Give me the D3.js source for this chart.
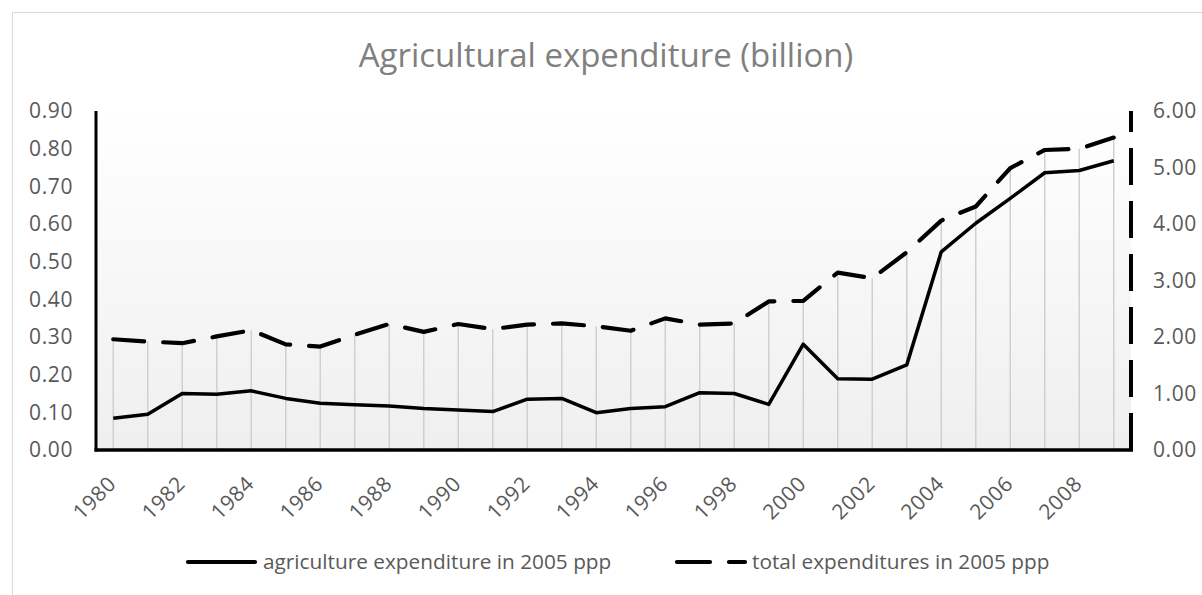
<!DOCTYPE html>
<html>
<head>
<meta charset="utf-8">
<script src="https://cdn.jsdelivr.net/npm/d3@7"></script>
<style>
  html, body { margin: 0; padding: 0; background: #fff; }
  svg { display: block; font-family: "Open Sans", sans-serif; }
</style>
</head>
<body>
<svg id="chart" width="1202" height="595"></svg>
<script>
const years = [1980,1981,1982,1983,1984,1985,1986,1987,1988,1989,1990,1991,1992,1993,1994,1995,1996,1997,1998,1999,2000,2001,2002,2003,2004,2005,2006,2007,2008,2009];
const agriculture = [0.084,0.095,0.150,0.148,0.157,0.137,0.124,0.120,0.117,0.110,0.106,0.102,0.135,0.137,0.099,0.110,0.115,0.152,0.150,0.121,0.281,0.189,0.188,0.226,0.526,0.602,0.668,0.736,0.742,0.768];
const total = [1.96,1.92,1.89,2.01,2.12,1.87,1.83,2.04,2.23,2.09,2.23,2.14,2.22,2.24,2.19,2.11,2.33,2.22,2.24,2.63,2.64,3.14,3.04,3.50,4.06,4.31,4.99,5.31,5.33,5.53];
const leftTicks = [0,0.1,0.2,0.3,0.4,0.5,0.6,0.7,0.8,0.9];
const rightTicks = [0,1,2,3,4,5,6];
const xLabelYears = years.filter(y => (y - 1980) % 2 === 0);
const titleText = "Agricultural expenditure (billion)";
const seriesNames = ["agriculture expenditure in 2005 ppp", "total expenditures in 2005 ppp"];

const svg = d3.select("#chart");
const plot = {left: 96, right: 1131, top: 111, bottom: 450};

// outer chart border
svg.append("rect").attr("x", 12.5).attr("y", 12.5).attr("width", 1220).attr("height", 620)
  .attr("fill", "none").attr("stroke", "#d9d9d9").attr("stroke-width", 1);

const defs = svg.append("defs");
const grad = defs.append("linearGradient").attr("id", "bg").attr("x1", 0).attr("y1", 0).attr("x2", 0).attr("y2", 1);
grad.append("stop").attr("offset", "0%").attr("stop-color", "#ffffff");
grad.append("stop").attr("offset", "100%").attr("stop-color", "#efefef");

const x = d3.scaleBand().domain(years).range([plot.left, plot.right]).padding(0);
const cx = d => x(d) + x.bandwidth() / 2;
const yL = d3.scaleLinear().domain([0, 0.9]).range([plot.bottom, plot.top]);
const yR = d3.scaleLinear().domain([0, 6]).range([plot.bottom, plot.top]);

svg.append("rect").attr("x", plot.left).attr("y", plot.top)
  .attr("width", plot.right - plot.left).attr("height", plot.bottom - plot.top)
  .attr("fill", "url(#bg)");

// title
svg.append("text").attr("x", 606).attr("y", 67).attr("text-anchor", "middle")
  .attr("font-size", 33).attr("fill", "#808080").text(titleText);

// drop lines
svg.append("g").selectAll("line").data(years).join("line")
  .attr("x1", d => cx(d)).attr("x2", d => cx(d))
  .attr("y1", plot.bottom)
  .attr("y2", (d, i) => Math.min(yL(agriculture[i]), yR(total[i])))
  .attr("stroke", "#d0d0d0").attr("stroke-width", 1.5);

const tickFont = 21, tickSpacing = 0.6;

// left axis
const gL = svg.append("g").attr("transform", `translate(${plot.left},0)`)
  .call(d3.axisLeft(yL).tickValues(leftTicks).tickFormat(d3.format(".2f")).tickSize(0).tickPadding(23));
gL.select(".domain").remove();
gL.selectAll("text").attr("font-size", tickFont).attr("letter-spacing", tickSpacing)
  .attr("fill", "#595959").attr("font-family", "Open Sans");
svg.append("line").attr("x1", plot.left).attr("x2", plot.left).attr("y1", plot.top).attr("y2", plot.bottom + 1.5)
  .attr("stroke", "#000").attr("stroke-width", 3);

// right axis
const gR = svg.append("g").attr("transform", `translate(${plot.right},0)`)
  .call(d3.axisRight(yR).tickValues(rightTicks).tickFormat(d3.format(".2f")).tickSize(0).tickPadding(22));
gR.select(".domain").remove();
gR.selectAll("text").attr("font-size", tickFont).attr("letter-spacing", tickSpacing)
  .attr("fill", "#595959").attr("font-family", "Open Sans");
svg.append("line").attr("x1", plot.right).attr("x2", plot.right).attr("y1", plot.bottom).attr("y2", plot.top)
  .attr("stroke", "#000").attr("stroke-width", 4).attr("stroke-dasharray", "37,16");

// bottom axis
const gB = svg.append("g").attr("transform", `translate(0,${plot.bottom})`)
  .call(d3.axisBottom(x).tickValues(xLabelYears).tickSize(0).tickPadding(0));
gB.select(".domain").remove();
gB.selectAll("text")
  .attr("font-size", tickFont).attr("letter-spacing", tickSpacing)
  .attr("fill", "#595959").attr("font-family", "Open Sans")
  .attr("text-anchor", "end")
  .attr("transform", "translate(-1,30) rotate(-45)")
  .attr("dy", "0.35em").attr("y", 0).attr("x", 0);
svg.append("line").attr("x1", plot.left - 1.5).attr("x2", plot.right + 2).attr("y1", plot.bottom).attr("y2", plot.bottom)
  .attr("stroke", "#000").attr("stroke-width", 3.5);

// series
const lineL = d3.line().x((d, i) => cx(years[i])).y(d => yL(d));
const lineR = d3.line().x((d, i) => cx(years[i])).y(d => yR(d));
svg.append("path").datum(total).attr("d", lineR).attr("fill", "none")
  .attr("stroke", "#000").attr("stroke-width", 4.2).attr("stroke-linecap", "round")
  .attr("stroke-linejoin", "round").attr("stroke-dasharray", "31,19");
svg.append("path").datum(agriculture).attr("d", lineL).attr("fill", "none")
  .attr("stroke", "#000").attr("stroke-width", 3.5).attr("stroke-linejoin", "round");

// legend
const lg = svg.append("g");
lg.append("line").attr("x1", 188).attr("x2", 255).attr("y1", 562).attr("y2", 562)
  .attr("stroke", "#000").attr("stroke-width", 4.2).attr("stroke-linecap", "round");
lg.append("text").attr("x", 263).attr("y", 569).attr("font-size", 20.8).attr("fill", "#595959").text(seriesNames[0]);
lg.append("line").attr("x1", 677).attr("x2", 745).attr("y1", 562).attr("y2", 562)
  .attr("stroke", "#000").attr("stroke-width", 4.2).attr("stroke-linecap", "round").attr("stroke-dasharray", "33,19");
lg.append("text").attr("x", 752).attr("y", 569).attr("font-size", 20.8).attr("fill", "#595959").text(seriesNames[1]);
</script>
</body>
</html>
